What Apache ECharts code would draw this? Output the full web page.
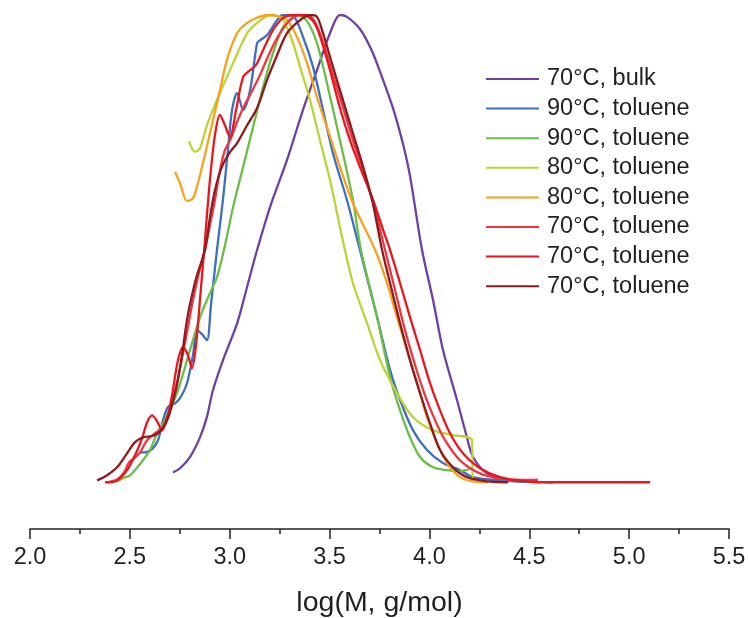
<!DOCTYPE html>
<html>
<head>
<meta charset="utf-8">
<script src="https://cdn.jsdelivr.net/npm/echarts@6/dist/echarts.min.js"></script>
<style>html,body{margin:0;padding:0;background:#fff}#c{width:748px;height:618px}</style>
</head>
<body>
<div id="c"></div>
<script>
// ---- data: [log(M), normalized signal] ----
const seriesNames = ['70°C, bulk','90°C, toluene','90°C, toluene','80°C, toluene','80°C, toluene','70°C, toluene','70°C, toluene','70°C, toluene'];
const xTicks = [2.0, 2.5, 3.0, 3.5, 4.0, 4.5, 5.0, 5.5];

const bulk70 = [[2.716,0.021],[2.751,0.030],[2.801,0.054],[2.851,0.096],[2.886,0.140],[2.916,0.197],[2.966,0.261],[3.037,0.340],[3.087,0.418],[3.137,0.497],[3.202,0.589],[3.287,0.690],[3.367,0.797],[3.437,0.882],[3.502,0.961],[3.552,1.0],[3.587,0.996],[3.652,0.970],[3.710,0.925],[3.760,0.870],[3.818,0.800],[3.870,0.720],[3.903,0.655],[3.963,0.497],[4.018,0.390],[4.068,0.283],[4.138,0.176],[4.188,0.096],[4.218,0.054],[4.288,0.019],[4.389,0.004],[4.62,0.0]];

const tol90a = [[2.551,0.064],[2.576,0.064],[2.611,0.071],[2.641,0.090],[2.666,0.133],[2.691,0.161],[2.726,0.169],[2.751,0.180],[2.786,0.212],[2.816,0.272],[2.836,0.325],[2.861,0.317],[2.886,0.304],[2.906,0.379],[2.936,0.497],[2.966,0.604],[2.991,0.711],[3.012,0.797],[3.037,0.833],[3.067,0.797],[3.102,0.839],[3.137,0.940],[3.152,0.946],[3.187,0.957],[3.237,0.989],[3.267,1.0],[3.317,0.998],[3.367,0.953],[3.417,0.889],[3.467,0.797],[3.517,0.704],[3.587,0.604],[3.652,0.497],[3.738,0.353],[3.803,0.240],[3.853,0.176],[3.918,0.111],[3.988,0.069],[4.068,0.041],[4.153,0.026],[4.218,0.011],[4.353,0.004],[4.554,0.0]];

const tol90b = [[2.391,0.0],[2.436,0.002],[2.466,0.009],[2.501,0.015],[2.551,0.039],[2.601,0.069],[2.636,0.105],[2.666,0.126],[2.736,0.191],[2.801,0.283],[2.851,0.353],[2.886,0.390],[2.936,0.439],[2.971,0.497],[3.017,0.589],[3.067,0.675],[3.117,0.760],[3.167,0.846],[3.217,0.919],[3.267,0.974],[3.317,0.996],[3.342,1.0],[3.387,0.987],[3.437,0.940],[3.487,0.854],[3.552,0.732],[3.617,0.604],[3.657,0.497],[3.738,0.353],[3.803,0.225],[3.853,0.154],[3.903,0.096],[3.953,0.054],[4.018,0.032],[4.088,0.026],[4.153,0.024],[4.213,0.030]];

const tol80a = [[2.796,0.730],[2.826,0.707],[2.851,0.715],[2.886,0.764],[2.916,0.797],[2.951,0.833],[3.017,0.897],[3.087,0.961],[3.137,0.983],[3.187,0.998],[3.217,1.0],[3.267,0.989],[3.317,0.940],[3.352,0.889],[3.402,0.818],[3.452,0.732],[3.502,0.647],[3.552,0.546],[3.577,0.497],[3.617,0.426],[3.688,0.340],[3.753,0.261],[3.838,0.191],[3.918,0.139],[4.018,0.111],[4.118,0.101],[4.213,0.090],[4.216,0.0]];

const tol80b = [[2.726,0.664],[2.751,0.640],[2.786,0.602],[2.816,0.608],[2.851,0.657],[2.901,0.747],[2.951,0.839],[2.986,0.904],[3.037,0.961],[3.087,0.983],[3.137,0.994],[3.187,1.0],[3.237,0.998],[3.287,0.989],[3.337,0.953],[3.387,0.897],[3.437,0.824],[3.487,0.760],[3.552,0.675],[3.617,0.597],[3.728,0.497],[3.788,0.426],[3.838,0.353],[3.888,0.283],[3.938,0.212],[3.988,0.139],[4.038,0.084],[4.088,0.041],[4.153,0.011],[4.218,0.002],[4.293,0.0]];

const tol70a = [[2.386,0.0],[2.436,0.006],[2.471,0.021],[2.496,0.043],[2.521,0.051],[2.551,0.064],[2.586,0.090],[2.626,0.105],[2.661,0.116],[2.691,0.143],[2.716,0.180],[2.741,0.223],[2.766,0.276],[2.791,0.332],[2.816,0.390],[2.841,0.439],[2.876,0.497],[2.901,0.550],[2.926,0.604],[2.951,0.668],[2.976,0.711],[3.002,0.732],[3.037,0.771],[3.067,0.801],[3.102,0.829],[3.152,0.872],[3.202,0.921],[3.252,0.961],[3.302,0.989],[3.352,1.0],[3.387,1.0],[3.427,0.985],[3.467,0.942],[3.517,0.872],[3.567,0.803],[3.617,0.732],[3.668,0.668],[3.728,0.582],[3.778,0.497],[3.828,0.411],[3.878,0.325],[3.928,0.251],[3.978,0.186],[4.028,0.133],[4.078,0.090],[4.153,0.047],[4.253,0.019],[4.354,0.008],[4.454,0.005],[4.544,0.005]];

const tol70b = [[2.376,0.0],[2.436,0.004],[2.486,0.026],[2.526,0.058],[2.561,0.094],[2.586,0.128],[2.611,0.143],[2.636,0.131],[2.661,0.111],[2.686,0.137],[2.711,0.186],[2.741,0.261],[2.766,0.289],[2.791,0.272],[2.811,0.244],[2.831,0.293],[2.851,0.390],[2.876,0.518],[2.901,0.647],[2.926,0.743],[2.951,0.786],[2.976,0.764],[3.001,0.739],[3.032,0.797],[3.067,0.867],[3.102,0.882],[3.132,0.893],[3.167,0.925],[3.217,0.968],[3.267,0.994],[3.317,1.0],[3.367,1.0],[3.417,0.987],[3.452,0.955],[3.502,0.882],[3.552,0.801],[3.602,0.732],[3.652,0.675],[3.718,0.604],[3.768,0.540],[3.803,0.497],[3.853,0.426],[3.903,0.353],[3.953,0.283],[4.003,0.212],[4.053,0.154],[4.103,0.105],[4.168,0.062],[4.253,0.030],[4.354,0.011],[4.489,0.002],[4.654,0.0],[5.105,0.0]];

const tol70c = [[2.336,0.004],[2.386,0.015],[2.436,0.032],[2.486,0.062],[2.526,0.086],[2.566,0.096],[2.611,0.099],[2.641,0.105],[2.666,0.116],[2.691,0.137],[2.711,0.165],[2.736,0.208],[2.761,0.272],[2.786,0.347],[2.811,0.400],[2.836,0.443],[2.876,0.497],[2.901,0.567],[2.926,0.625],[2.961,0.675],[3.002,0.707],[3.037,0.726],[3.087,0.764],[3.137,0.801],[3.187,0.861],[3.237,0.914],[3.287,0.961],[3.352,0.989],[3.402,1.0],[3.437,0.996],[3.467,0.961],[3.517,0.889],[3.567,0.818],[3.617,0.747],[3.668,0.675],[3.713,0.604],[3.763,0.497],[3.803,0.426],[3.853,0.340],[3.903,0.261],[3.953,0.191],[4.003,0.126],[4.053,0.069],[4.118,0.032],[4.188,0.011],[4.288,0.002],[4.394,0.0]];

const allData = [bulk70, tol90a, tol90b, tol80a, tol80b, tol70a, tol70b, tol70c];
const colors = ['#6F409F','#3F6EBE','#6ABD45','#BAD437','#F8A11C','#EE3640','#E9161E','#8C1A1F'];

const TXT = '#231F20';
const FONT = 'Liberation Sans, Arial, Helvetica, sans-serif';

const chart = echarts.init(document.getElementById('c'), null, {renderer: 'canvas'});
chart.setOption({
  backgroundColor: '#ffffff',
  animation: false,
  grid: {left: 30, right: 19, top: 15, bottom: 89, containLabel: false, outerBoundsMode: 'none'},
  legend: {
    orient: 'vertical',
    left: 486, top: 67,
    padding: 0,
    itemWidth: 53, itemHeight: 14, itemGap: 5.6,
    icon: 'path://M0,6 L53,6 L53,8 L0,8 Z',
    textStyle: {fontFamily: FONT, fontSize: 23.5, color: TXT, lineHeight: 24, padding: [0,0,0,3]},
    data: seriesNames.map((n, i) => ({name: n + '\u200B'.repeat(i), itemStyle: {color: colors[i]}}))
  },
  xAxis: {
    type: 'value',
    min: xTicks[0], max: xTicks[xTicks.length - 1], interval: 0.5,
    name: 'log(M, g/mol)',
    nameLocation: 'middle', nameGap: 60,
    nameTextStyle: {fontFamily: FONT, fontSize: 28.5, color: TXT},
    axisLine: {show: true, onZero: false, lineStyle: {color: TXT, width: 1.5}},
    axisTick: {show: true, inside: false, length: 10, lineStyle: {color: TXT, width: 1.5}},
    minorTick: {show: true, splitNumber: 2, length: 5, lineStyle: {color: TXT, width: 1.5}},
    splitLine: {show: false},
    axisLabel: {fontFamily: FONT, fontSize: 23.5, color: TXT, margin: 17, formatter: v => v.toFixed(1)}
  },
  yAxis: {
    type: 'value', min: -0.1, max: 1.0, show: false,
    splitLine: {show: false}
  },
  series: allData.map((d, i) => ({
    name: seriesNames[i] + '\u200B'.repeat(i),
    type: 'line',
    data: d,
    showSymbol: false, symbol: 'none',
    smooth: 0.3,
    lineStyle: {color: colors[i], width: 2.3},
    itemStyle: {color: colors[i]},
    z: 2 + i
  }))
});
</script>
</body>
</html>
